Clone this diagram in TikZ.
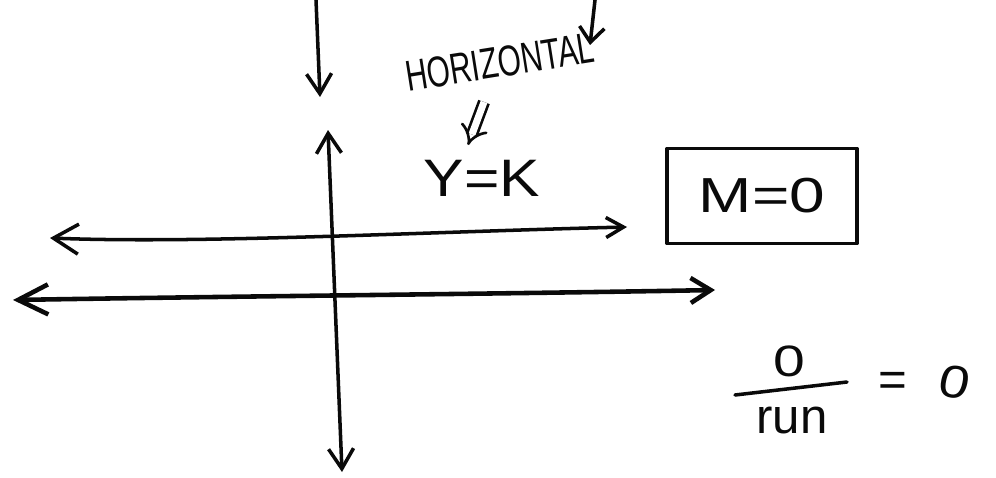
\documentclass[tikz,border=0pt]{standalone}
\usepackage{fontspec}
\setmainfont{Liberation Sans}
\usetikzlibrary{arrows.meta,positioning,calc}
\definecolor{InkColor}{RGB}{10,10,10}
\tikzset{
  pen/.style={InkColor, line width=2pt, line cap=round, line join=round},
  barb/.style={-{Straight Barb[length=4mm,width=5mm]}},
  hand/.style={InkColor, inner sep=0pt}
}

\begin{document}
\begin{tikzpicture}[x=0.2mm, y=-0.2mm]
        \useasboundingbox (0,0) rectangle (996,477);
        \coordinate (topA) at (316,0);   \coordinate (topB) at (320,97);
        \coordinate (axT) at (328,130);  \coordinate (axB) at (342,472);
        \coordinate (upL) at (50,238);   \coordinate (upR) at (627,227);
        \coordinate (loL) at (13,300);   \coordinate (loR) at (715,290);
        \draw[pen, barb] (topA) -- (topB);
        \draw[pen, {Straight Barb[length=4mm,width=5mm]}-{Straight Barb[length=4mm,width=5mm]}] (axT) -- (axB);
        \draw[pen, {Straight Barb[length=5mm,width=6mm]}-{Straight Barb[length=3.5mm,width=4mm]}] (upL) .. controls (200,244) and (420,232) .. (upR);
        \draw[pen, line width=2.6pt, {Straight Barb[length=6mm,width=6mm]}-{Straight Barb[length=4mm,width=5mm]}] (loL) .. controls (250,296) and (500,294) .. (loR);
        \node[hand, rotate=9, yscale=1.45, font=\fontsize{17}{20}\selectfont] (horiz) at (500,62) {HORIZONTAL};
        \coordinate (lA) at (595,0); \coordinate (lB) at (590,45);
        \draw[pen, -{Straight Barb[length=3mm,width=5mm]}] (lA) -- (lB);
        \coordinate (dA) at (484,102); \coordinate (dB) at (468,145);
        \draw[InkColor, line width=1.5pt, double, double distance=4pt, -{Implies[scale=1.3]}] (dA) -- (dB);
        \node[hand, xscale=1.15, font=\fontsize{30}{34}\selectfont] (ylab) at (482,178) {Y=K};
        \node[pen, draw, minimum width=38mm, minimum height=19mm] (mbox) at (762,196) {};
        \node[hand, xscale=1.3, font=\fontsize{28}{32}\selectfont] (mlab) at (mbox.center) {M=0};
        \node[hand, xscale=1.3, font=\fontsize{25}{28}\selectfont] (num) at (789,361) {0};
        \coordinate (fA) at (735,395); \coordinate (fB) at (847,382);
        \draw[pen] (fA) -- (fB);
        \node[hand, font=\fontsize{28}{32}\selectfont] (den) at (792,420) {run};
        \node[hand, font=\fontsize{28}{32}\selectfont] (eq) at (893,384) {=};
        \node[hand, xscale=1.2, rotate=-10, font=\fontsize{26}{30}\selectfont] (res) at (955,382) {0};
      \end{tikzpicture}
\end{document}
